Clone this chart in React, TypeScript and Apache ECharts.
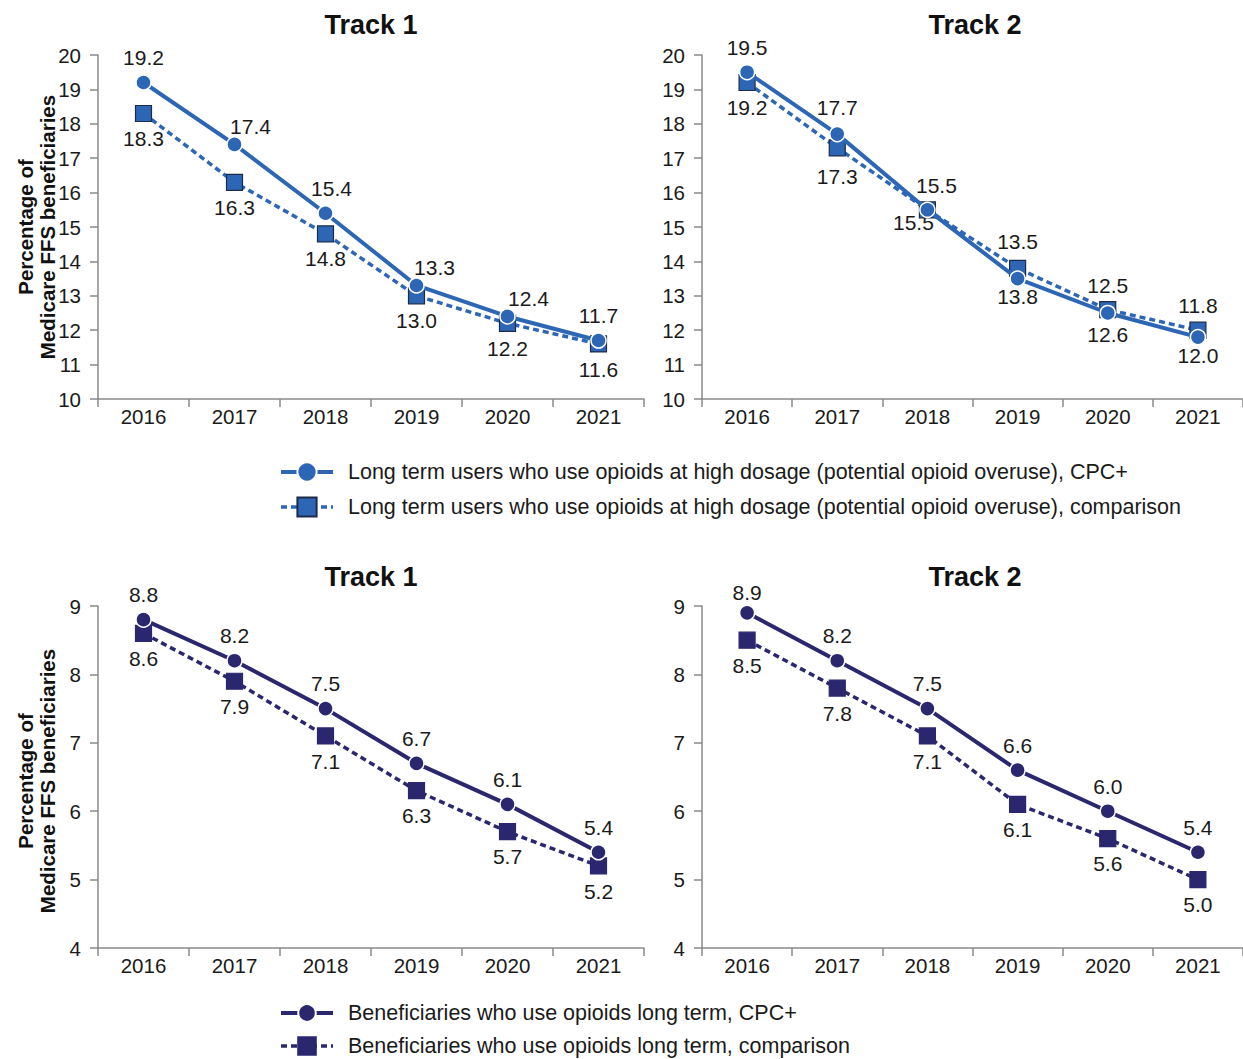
import React, { useEffect, useRef } from "react";
import * as echarts from "echarts";

const years = ["2016", "2017", "2018", "2019", "2020", "2021"];

const hdCpcTrack1 = [19.2, 17.4, 15.4, 13.3, 12.4, 11.7];
const hdCmpTrack1 = [18.3, 16.3, 14.8, 13.0, 12.2, 11.6];
const hdCpcTrack2 = [19.5, 17.7, 15.5, 13.5, 12.5, 11.8];
const hdCmpTrack2 = [19.2, 17.3, 15.5, 13.8, 12.6, 12.0];

const ltCpcTrack1 = [8.8, 8.2, 7.5, 6.7, 6.1, 5.4];
const ltCmpTrack1 = [8.6, 7.9, 7.1, 6.3, 5.7, 5.2];
const ltCpcTrack2 = [8.9, 8.2, 7.5, 6.6, 6.0, 5.4];
const ltCmpTrack2 = [8.5, 7.8, 7.1, 6.1, 5.6, 5.0];

const topYTicks = { min: 10, max: 20, interval: 1 };
const bottomYTicks = { min: 4, max: 9, interval: 1 };

const panelTitles = ["Track 1", "Track 2", "Track 1", "Track 2"];
const yAxisTitle = "Percentage of\nMedicare FFS beneficiaries";

const nameHdCpc = "Long term users who use opioids at high dosage (potential opioid overuse), CPC+";
const nameHdCmp = "Long term users who use opioids at high dosage (potential opioid overuse), comparison";
const nameLtCpc = "Beneficiaries who use opioids long term, CPC+";
const nameLtCmp = "Beneficiaries who use opioids long term, comparison";

// layout-only label nudges (pixels), not data
const Z = [[0, 0], [0, 0], [0, 0], [0, 0], [0, 0], [0, 0]];
const offTLCpc = [[0, 0], [16, 7], [6, 0], [18, 7], [21, 7], [0, 0]];
const offTRCpc = [[0, 0], [0, -2], [9, 0], [0, -12], [0, -3], [0, -7]];
const offTRCmp = [[0, 0], [0, 4], [-14, -12], [0, 3], [0, 0], [0, 0]];
const offBRCpc = [[0, 4], [0, 0], [0, 0], [0, 0], [0, 0], [0, 0]];

const FONT = "'Liberation Sans', Arial, sans-serif";
const BLUE = "#2D66B5";
const NAVY = "#2A276F";
const AXIS = "#8a8a8a";
const DASH = [6, 4];

export default function App() {
  const ref = useRef<HTMLDivElement>(null);

  useEffect(() => {
    if (!ref.current) return;
    const chart = echarts.init(ref.current, undefined, { renderer: "svg" });

    const grids = [
      { left: 98, top: 55, width: 546, height: 344 },
      { left: 702, top: 55, width: 546, height: 344 },
      { left: 98, top: 606, width: 546, height: 342 },
      { left: 702, top: 606, width: 546, height: 342 },
    ];

    const xAxes = grids.map((_, i) => ({
      type: "category",
      gridIndex: i,
      data: years,
      boundaryGap: true,
      axisLine: { show: true, lineStyle: { color: AXIS, width: 1.5 } },
      axisTick: { show: true, length: 8, alignWithLabel: false, lineStyle: { color: AXIS, width: 1.5 } },
      axisLabel: { color: "#1a1a1a", fontSize: 20.5, fontFamily: FONT, margin: 7 },
      splitLine: { show: false },
    }));

    const yAxes = grids.map((_, i) => {
      const t = i < 2 ? topYTicks : bottomYTicks;
      return {
        type: "value",
        gridIndex: i,
        min: t.min,
        max: t.max,
        interval: t.interval,
        axisLine: { show: true, lineStyle: { color: AXIS, width: 1.5 } },
        axisTick: { show: true, length: 8, lineStyle: { color: AXIS, width: 1.5 } },
        axisLabel: { color: "#1a1a1a", fontSize: 20.5, fontFamily: FONT, margin: 17 },
        splitLine: { show: false },
      };
    });

    const mk = (
      name: string,
      values: number[],
      idx: number,
      color: string,
      isCpc: boolean,
      offs: number[][],
      squareBorder: string
    ) => ({
      type: "line",
      name,
      xAxisIndex: idx,
      yAxisIndex: idx,
      z: isCpc ? 4 : 3,
      symbol: isCpc ? "circle" : "rect",
      symbolSize: isCpc ? 15 : 16,
      lineStyle: isCpc
        ? { color, width: 4, type: "solid" }
        : { color, width: 3.5, type: DASH },
      itemStyle: isCpc
        ? { color, borderColor: "#ffffff", borderWidth: 1.5 }
        : { color, borderColor: squareBorder, borderWidth: 1.2 },
      label: {
        show: true,
        position: isCpc ? "top" : "bottom",
        distance: 6,
        color: "#1a1a1a",
        fontSize: 21,
        fontFamily: FONT,
        formatter: (p: any) => Number(p.value).toFixed(1),
      },
      emphasis: { disabled: true },
      data: values.map((v, k) => ({ value: v, label: { offset: offs[k] } })),
    });

    const series = [
      mk(nameHdCpc, hdCpcTrack1, 0, BLUE, true, offTLCpc, "#1d2b48"),
      mk(nameHdCmp, hdCmpTrack1, 0, BLUE, false, Z, "#1d2b48"),
      mk(nameHdCpc, hdCpcTrack2, 1, BLUE, true, offTRCpc, "#1d2b48"),
      mk(nameHdCmp, hdCmpTrack2, 1, BLUE, false, offTRCmp, "#1d2b48"),
      mk(nameLtCpc, ltCpcTrack1, 2, NAVY, true, Z, NAVY),
      mk(nameLtCmp, ltCmpTrack1, 2, NAVY, false, Z, NAVY),
      mk(nameLtCpc, ltCpcTrack2, 3, NAVY, true, offBRCpc, NAVY),
      mk(nameLtCmp, ltCmpTrack2, 3, NAVY, false, Z, NAVY),
    ];

    const legendCommon = {
      orient: "vertical",
      left: 279,
      width: 950,
      height: 80,
      padding: 0,
      itemWidth: 52,
      selectedMode: false,
      textStyle: { color: "#1a1a1a", fontSize: 21.5, fontFamily: FONT, padding: [0, 0, 0, 10] },
    };

    const legendItems = (cpc: string, cmp: string) => [
      { name: cpc, lineStyle: { width: 4, type: "solid" } },
      { name: cmp, lineStyle: { width: 3.5, type: DASH } },
    ];

    const titleCenters = [
      [371, 25],
      [975, 25],
      [371, 577],
      [975, 577],
    ];

    const graphic: any[] = titleCenters.map((c, i) => ({
      type: "text",
      x: c[0],
      y: c[1],
      style: {
        text: panelTitles[i],
        fontSize: 27,
        fontWeight: "bold",
        fontFamily: FONT,
        fill: "#111",
        align: "center",
        verticalAlign: "middle",
      },
    }));
    [227, 781].forEach((cy) => {
      graphic.push({
        type: "text",
        x: 36,
        y: cy,
        rotation: Math.PI / 2,
        style: {
          text: yAxisTitle,
          fontSize: 20.5,
          fontWeight: "bold",
          fontFamily: FONT,
          fill: "#111",
          align: "center",
          verticalAlign: "middle",
          lineHeight: 22,
        },
      });
    });

    chart.setOption({
      animation: false,
      backgroundColor: "#ffffff",
      grid: grids,
      xAxis: xAxes,
      yAxis: yAxes,
      legend: [
        {
          ...legendCommon,
          top: 461,
          itemHeight: 24,
          itemGap: 13,
          data: legendItems(nameHdCpc, nameHdCmp),
        },
        {
          ...legendCommon,
          top: 1002,
          itemHeight: 22,
          itemGap: 11,
          data: legendItems(nameLtCpc, nameLtCmp),
        },
      ],
      graphic,
      series,
    });

    return () => chart.dispose();
  }, []);

  return (
    <div
      ref={ref}
      style={{ position: "absolute", left: 0, top: 0, width: 1243, height: 1059 }}
    />
  );
}
